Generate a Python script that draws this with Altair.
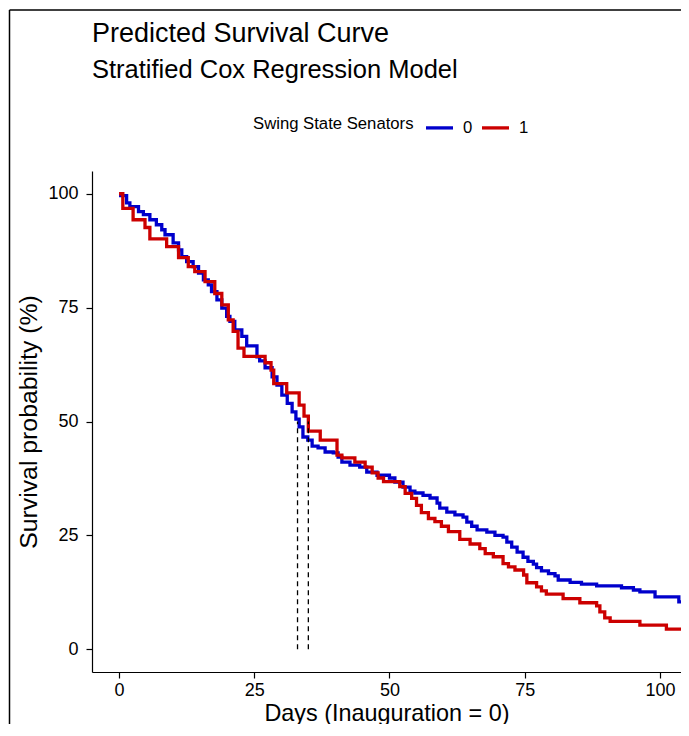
import altair as alt
import pandas as pd

# ---- data ----
days_0 = [0, 1.4, 2, 3.6, 4.5, 5.7, 6.9, 7.9, 8.5, 10, 11, 11.6, 12.5, 13.7, 14.7, 15.6, 16.5,
          17.1, 18.1, 19, 19.9, 20.5, 21.4, 22.7, 23.6, 25.5, 26, 27, 28.3, 29.2, 30.1, 31.1, 32,
          32.7, 33.3, 34, 34.9, 35.7, 36.8, 38.1, 39.6, 40.5, 41.2, 42.7, 44.5, 45.8, 47.7, 50,
          51, 52.5, 53.8, 54.7, 56.2, 57.5, 58.8, 59.3, 60.6, 62.1, 63.6, 64.3, 65.2, 66.2, 68,
          69.5, 71, 71.7, 72.6, 73.6, 74.7, 75.6, 76.6, 77.2, 78.1, 79.4, 80.6, 81.2, 83.4, 85.5,
          88.3, 92.9, 95.1, 96.3, 99.1, 103.5, 106]
surv_0 = [99.6, 98, 97.2, 96.1, 95.4, 94.3, 93.2, 92.1, 91, 89.2, 87.7, 86.2, 85.1, 84, 82.6, 81.1, 80,
          78.5, 76.7, 74.9, 73.1, 72, 70.1, 68.7, 66.6, 64.2, 63.3, 61.8, 59.8, 58, 55.8, 54, 52.1,
          50.5, 48.8, 46.6, 45.9, 44.6, 44.2, 43.3, 43.1, 42.2, 41.1, 40.4, 40, 38.9, 38.2, 37.6,
          36.7, 35.6, 34.7, 34.3, 33.8, 33.2, 32.1, 31, 30.1, 29.5, 29, 27.9, 27, 26.2, 25.7,
          25, 24.6, 23.5, 22.4, 21.3, 20.2, 19.3, 18.7, 17.9, 17.2, 16.6, 16.1, 15.2, 14.7, 14.3,
          13.9, 13.5, 13, 12.6, 11.5, 10.4, 10.4]

days_1 = [0, 0.7, 2.6, 4.8, 5.7, 8.8, 11, 12.8, 14, 15.9, 17.7, 19, 20.2, 21.1, 22, 23.1, 27,
          28.1, 28.6, 31, 33.3, 34.2, 35, 37.2, 40.3, 41.2, 43.6, 45.5, 46.8, 47.9, 48.9, 51.9,
          52.9, 54.1, 55, 55.9, 57.2, 58.4, 59.6, 60.9, 63, 64.9, 66.7, 67.7, 69.2, 71, 72, 73.2,
          74.8, 75.4, 77.2, 78.1, 79, 82.1, 85.2, 88.3, 88.9, 89.8, 90.8, 96.3, 101.2, 106]
surv_1 = [100, 96.8, 94.3, 92.6, 90.1, 88.4, 86, 84, 82.9, 80.7, 78.1, 75.6, 72.3, 69.8, 66.1, 64.3, 62.9,
          61.3, 58.3, 56.3, 53.6, 51.2, 47.9, 45.9, 42.6, 42, 41.1, 40, 38.7, 37.6, 36.8, 35.7,
          34.2, 33.1, 31.6, 30, 28.7, 28, 27, 25.8, 24.1, 23.1, 22.1, 21, 20.3, 18.8, 18.1, 17.4,
          16.3, 14.6, 13.7, 12.8, 12.1, 11.1, 10.2, 9.5, 8.2, 6.9, 6.1, 5.3, 4.4, 4.4]

groups = ["0", "1"]
group_colors = ["#0000CC", "#CC0000"]
median_days = [33, 35]
median_low = [0, 0]
median_high = [50, 50]
x_ticks = [0, 25, 50, 75, 100]
y_ticks = [0, 25, 50, 75, 100]

FONT = "Liberation Sans"

curves = pd.DataFrame({
    "day": days_0 + days_1,
    "surv": surv_0 + surv_1,
    "group": [groups[0]] * len(days_0) + [groups[1]] * len(days_1),
})
medians = pd.DataFrame({"day": median_days, "lo": median_low, "hi": median_high})

# the reference is cut at the right edge of the picture; keep the same px/day scale
x_scale = alt.Scale(domain=[-5, 103.9], nice=False, zero=False)
y_scale = alt.Scale(domain=[-5, 105], nice=False, zero=False)

lines = alt.Chart(curves).mark_line(interpolate="step-after", strokeWidth=3.3, clip=True).encode(
    x=alt.X("day:Q", scale=x_scale,
            axis=alt.Axis(values=x_ticks, title="Days (Inauguration = 0)", titlePadding=3,
                          titleFontSize=23.4, labelPadding=3)),
    y=alt.Y("surv:Q", scale=y_scale,
            axis=alt.Axis(values=y_ticks, title="Survival probability (%)", titlePadding=6,
                          titleFontSize=24.8, labelPadding=8)),
    color=alt.Color("group:N",
                    scale=alt.Scale(domain=groups, range=group_colors),
                    legend=alt.Legend(
                        title="Swing State Senators", orient="none", direction="horizontal",
                        legendX=161, legendY=-59, titleOrient="left", titlePadding=10,
                        titleFontSize=16.7, titleFontWeight="normal", titleFont=FONT,
                        titleColor="black", titleBaseline="middle",
                        labelFontSize=16.7, labelFont=FONT, labelColor="black", labelOffset=8,
                        symbolType="stroke", symbolSize=729, symbolStrokeWidth=3.3,
                        columnPadding=2)),
)

med = alt.Chart(medians).mark_rule(color="black", strokeDash=[5, 4], strokeWidth=1.3).encode(
    x="day:Q", y="lo:Q", y2="hi:Q"
)

frame_left = alt.Chart(pd.DataFrame({"k": [0]})).mark_rule(color="black", strokeWidth=1.5, clip=False).encode(
    x=alt.value(-82.5), y=alt.value(-161), y2=alt.value(700)
)
frame_top = alt.Chart(pd.DataFrame({"k": [0]})).mark_rule(color="black", strokeWidth=1.5, clip=False).encode(
    x=alt.value(-82.5), x2=alt.value(700), y=alt.value(-161)
)

chart = alt.layer(lines, med, frame_left, frame_top).properties(
    width=589, height=501,
    autosize=alt.AutoSizeParams(type="none"),
    padding={"left": 84, "top": 163, "right": 0, "bottom": 52},
    title=alt.Title("Predicted Survival Curve", subtitle="Stratified Cox Regression Model",
                    anchor="start", frame="group", font=FONT, subtitleFont=FONT,
                    fontSize=27, subtitleFontSize=25.5, fontWeight="normal",
                    color="black", subtitleColor="black", subtitlePadding=10, offset=-75),
).configure_view(stroke=None).configure_axis(
    grid=False, domainColor="black", domainWidth=1.2, tickColor="black", tickWidth=1.2,
    tickSize=6, labelColor="black", labelFont=FONT, labelFontSize=18, labelPadding=6,
    titleColor="black", titleFont=FONT, titleFontWeight="normal",
)

chart.save("out.html", embed_options={"renderer": "svg", "actions": False})
